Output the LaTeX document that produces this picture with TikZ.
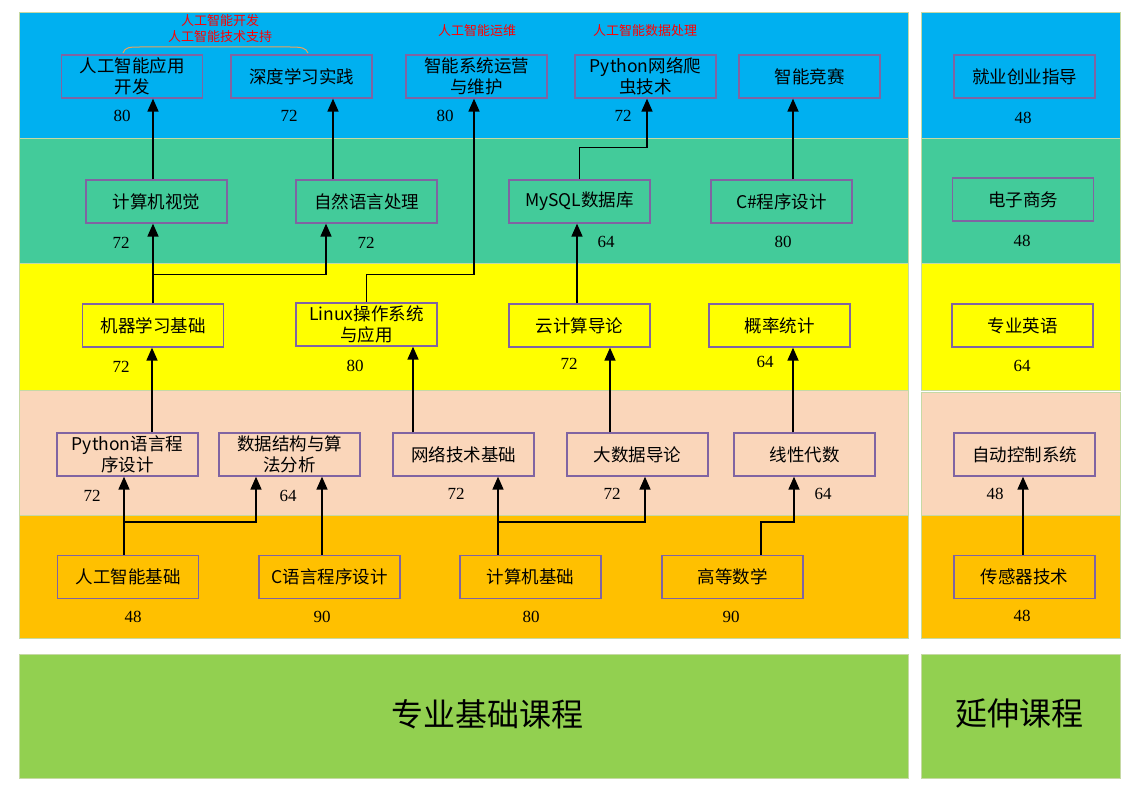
\documentclass[tikz,border=0pt]{standalone}
\usepackage{fontspec}
\setmainfont{Liberation Serif}
\newfontfamily\cjk{Noto Sans CJK SC}
\usepackage{xcolor}
\usepackage{tikz}
\usetikzlibrary{arrows.meta,positioning,calc}
\definecolor{BandBlue}{HTML}{00B0F0}
\definecolor{BandGreen}{HTML}{43CB9A}
\definecolor{BandYellow}{HTML}{FFFF00}
\definecolor{BandPeach}{HTML}{FAD6BA}
\definecolor{BandOrange}{HTML}{FFC000}
\definecolor{BandLime}{HTML}{92D050}
\definecolor{BandLine}{HTML}{C6D9A4}
\definecolor{BoxPurple}{HTML}{8064A2}
\definecolor{NoteRed}{HTML}{FF0000}
\definecolor{NoteOrange}{HTML}{EDA35A}
\tikzset{
  course/.style={draw=BoxPurple,line width=1.3pt,minimum width=141pt,minimum height=43pt,
              inner sep=0pt,align=center,font=\cjk\fontsize{17.5}{20.5}\selectfont},
  hours/.style={font=\fontsize{17}{20}\selectfont},
  band/.style={draw=BandLine,line width=1pt},
  flow/.style={-{Triangle[length=13pt,width=11pt]},line width=1.7pt,draw=black},
  note/.style={font=\cjk\fontsize{13}{16}\selectfont,text=NoteRed,align=center},
  title/.style={font=\cjk\fontsize{32}{36}\selectfont}
}
\begin{document}
\begin{tikzpicture}[x=1pt,y=-1pt]
  \useasboundingbox (0,0) rectangle (1145,797);
  % bands
  \fill[BandBlue,band] (19,13) rectangle (908,138);
  \fill[BandGreen,band] (19,138) rectangle (908,263);
  \fill[BandYellow,band] (19,263) rectangle (908,390);
  \fill[BandPeach,band] (19,390) rectangle (908,515);
  \fill[BandOrange,band] (19,515) rectangle (908,638);
  \fill[BandBlue,band] (921,13) rectangle (1120,138);
  \fill[BandGreen,band] (921,138) rectangle (1120,263);
  \fill[BandYellow,band] (921,263) rectangle (1120,390);
  \fill[BandPeach,band] (921,392) rectangle (1120,515);
  \fill[BandOrange,band] (921,515) rectangle (1120,638);
  \fill[BandLime,band] (19,654) rectangle (908,778);
  \fill[BandLime,band] (921,654) rectangle (1120,778);
  \node[title] (core) at (487,714) {专业基础课程};
  \node[title] (extra) at (1019,714) {延伸课程};

  % top row
  \node[course] (aiapp) at (132,76.5) {人工智能应用\\开发};
  \node[course] (deep) at (301.5,76.5) {深度学习实践};
  \node[course] (ops) at (476.5,76.5) {智能系统运营\\与维护};
  \node[course] (crawl) at (645.5,76.5) {Python网络爬\\虫技术};
  \node[course] (contest) at (809.5,76.5) {智能竞赛};
  \node[course] (career) at (1024.5,76.5) {就业创业指导};
  \node[hours] at (122,116) {80};
  \node[hours] at (289,116) {72};
  \node[hours] at (445,116) {80};
  \node[hours] at (623,116) {72};
  \node[hours] at (1023,118) {48};
  \node[note] (devnote) at (220,29) {人工智能开发\\人工智能技术支持};
  \node[note] (opsnote) at (477,31) {人工智能运维};
  \node[note] (datanote) at (645,31) {人工智能数据处理};
  \draw[NoteOrange,line width=1pt] (123,53) .. controls (125,47) and (130,47) .. (140,47)
    -- (290,47) .. controls (302,47) and (306,48) .. (308,53);

  % second row
  \node[course] (cv) at (156.5,201.5) {计算机视觉};
  \node[course] (nlp) at (366.5,201.5) {自然语言处理};
  \node[course] (mysql) at (579.5,201.5) {MySQL数据库};
  \node[course] (csharp) at (781.5,201.5) {C\#程序设计};
  \node[course] (ecom) at (1023,199.5) {电子商务};
  \node[hours] at (121,243) {72};
  \node[hours] at (366,243) {72};
  \node[hours] at (606,242) {64};
  \node[hours] at (783,242) {80};
  \node[hours] at (1022,241) {48};

  % third row
  \node[course] (mlbase) at (153,325.5) {机器学习基础};
  \node[course] (linux) at (366.5,324.5) {Linux操作系统\\与应用};
  \node[course] (cloud) at (579.5,325.5) {云计算导论};
  \node[course] (prob) at (779.5,325.5) {概率统计};
  \node[course] (english) at (1022.5,325.5) {专业英语};
  \node[hours] at (121,367) {72};
  \node[hours] at (355,366) {80};
  \node[hours] at (569,364) {72};
  \node[hours] at (765,362) {64};
  \node[hours] at (1022,366) {64};

  % fourth row
  \node[course] (py) at (127.5,454.5) {Python语言程\\序设计};
  \node[course] (ds) at (289.5,454.5) {数据结构与算\\法分析};
  \node[course] (net) at (463.5,454.5) {网络技术基础};
  \node[course] (bigdata) at (637.5,454.5) {大数据导论};
  \node[course] (linalg) at (804.5,454.5) {线性代数};
  \node[course] (auto) at (1024.5,454.5) {自动控制系统};
  \node[hours] at (92,496) {72};
  \node[hours] at (288,496) {64};
  \node[hours] at (456,494) {72};
  \node[hours] at (612,494) {72};
  \node[hours] at (823,494) {64};
  \node[hours] at (995,494) {48};

  % bottom row
  \node[course] (aibase) at (128,577) {人工智能基础};
  \node[course] (clang) at (329.5,577) {C语言程序设计};
  \node[course] (compbase) at (530.5,577) {计算机基础};
  \node[course] (math) at (732.5,577) {高等数学};
  \node[course] (sensor) at (1024.5,577) {传感器技术};
  \node[hours] at (133,617) {48};
  \node[hours] at (322,617) {90};
  \node[hours] at (531,617) {80};
  \node[hours] at (731,617) {90};
  \node[hours] at (1022,616) {48};

  % prerequisites
  \draw[flow] ([xshift=-4pt]aibase.north) -- ([xshift=-4pt]aibase.north |- py.south);
  \draw[flow] ([xshift=-4pt]aibase.north) -- ++(0,-33) -| ([xshift=-33.5pt]ds.south);
  \draw[flow] ([xshift=-7.5pt]clang.north) -- ([xshift=-7.5pt]clang.north |- ds.south);
  \draw[flow] ([xshift=-32.5pt]compbase.north) -- ([xshift=-32.5pt]compbase.north |- net.south);
  \draw[flow] ([xshift=-32.5pt]compbase.north) -- ++(0,-33) -| ([xshift=7.5pt]bigdata.south);
  \draw[flow] ([xshift=28.5pt]math.north) -- ++(0,-33) -| ([xshift=-10.5pt]linalg.south);
  \draw[flow] ([xshift=-1.5pt]sensor.north) -- ([xshift=-1.5pt]auto.south);
  \draw[flow] ([xshift=24.5pt]py.north) -- ([xshift=24.5pt]py.north |- mlbase.south);
  \draw[flow] ([xshift=-50.5pt]net.north) -- ([xshift=-50.5pt]net.north |- linux.south);
  \draw[flow] ([xshift=-27.5pt]bigdata.north) -- ([xshift=-27.5pt]bigdata.north |- cloud.south);
  \draw[flow] ([xshift=-11.5pt]linalg.north) -- ([xshift=-11.5pt]linalg.north |- prob.south);
  \draw[flow] (mlbase.north) -- (mlbase.north |- cv.south);
  \draw[flow] (mlbase.north) -- ++(0,-29) -| ([xshift=-40.5pt]nlp.south);
  \draw[flow] (linux.north) -- ++(0,-28) -| ([xshift=-2.5pt]ops.south);
  \draw[flow] ([xshift=-2.5pt]cloud.north) -- ([xshift=-2.5pt]mysql.south);
  \draw[flow] ([xshift=-3.5pt]cv.north) -- ([xshift=-3.5pt]cv.north |- aiapp.south);
  \draw[flow] ([xshift=-33.5pt]nlp.north) -- ([xshift=-33.5pt]nlp.north |- deep.south);
  \draw[flow] (mysql.north) -- ++(0,-32) -| ([xshift=1.5pt]crawl.south);
  \draw[flow] ([xshift=11.5pt]csharp.north) -- ([xshift=11.5pt]csharp.north |- contest.south);
\end{tikzpicture}
\end{document}
